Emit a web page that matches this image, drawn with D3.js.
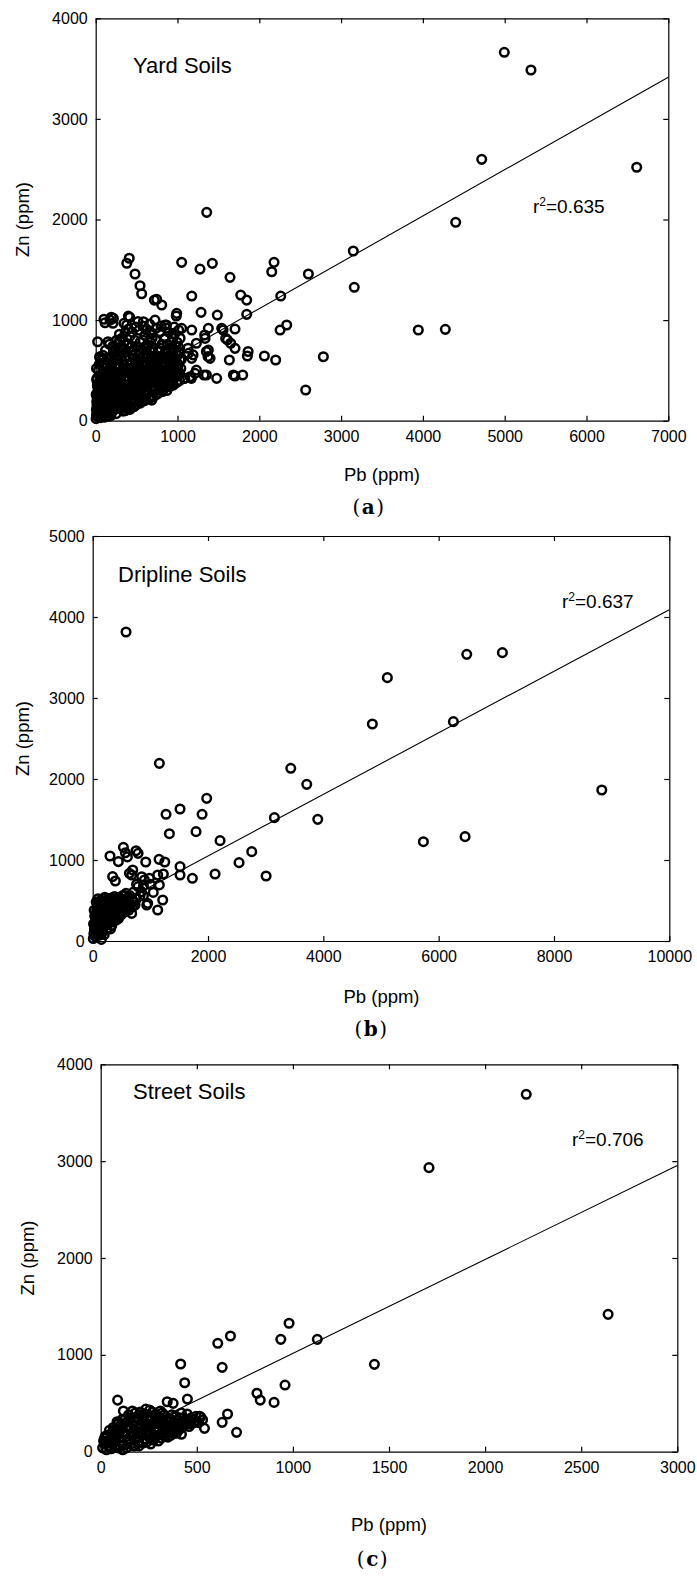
<!DOCTYPE html>
<html>
<head>
<meta charset="utf-8">
<script src="https://d3js.org/d3.v7.min.js"></script>
<style>
  body { margin: 0; background: #fff; }
  svg { display: block; font-family: 'Liberation Sans', Arial, sans-serif; }
  .axis path, .axis line { stroke: #000; stroke-width: 1.2; }
  .axis text { font-size: 16px; fill: #000; font-family: 'Liberation Sans', Arial, sans-serif; }
</style>
</head>
<body>
<script>
// ---- data (Pb ppm, Zn ppm) ----
var panelTitles = ["Yard Soils", "Dripline Soils", "Street Soils"];
var panelTags = ["a", "b", "c"];
var r2Values = ["0.635", "0.637", "0.706"];
var xMax = [7000, 10000, 3000];
var xStep = [1000, 2000, 500];
var yMax = [4000, 5000, 4000];
// regression lines: [intercept, slope]
var fits = [[195, 0.46], [290, 0.38], [45, 0.97]];

var yardPoints = [
  // outliers and sparse points
  [1357,2071],[380,1565],[410,1615],[481,1458],[542,1342],[562,1262],
  [1051,1574],[1275,1507],[1426,1564],[1642,1425],[2152,1481],[2180,1574],[2600,1458],
  [1174,1239],[1773,1249],[1846,1199],[2262,1239],[717,1199],[746,1206],[807,1150],
  [990,1067],[985,1041],[1288,1077],[1487,1050],[1846,1057],[2335,951],[2254,901],
  [2783,636],[2567,305],[2062,643],[2200,603],[1854,643],[1479,421],[1683,454],[1703,444],[1797,454],
  [1703,719],[1634,603],[1589,818],[1703,911],[1540,918],[1377,918],[1337,818],[1377,702],[1398,620],[1324,454],
  [1153,437],[1214,470],[1084,421],[1174,620],[1133,669],[1174,901],[1051,918],
  [1610,803],[1650,770],[1231,770],[1129,720],[1190,654],[1353,688],[1373,638],[1863,688],[1231,503],
  [1353,454],[1170,421],[1088,421],[1557,902],[1332,852],
  [4995,3662],[5321,3486],[4719,2598],[6614,2519],[4401,1972],[3149,1687],[3161,1326],[3944,902],[4274,908],
  [114,974],[175,1000],[216,1017],[24,785],[53,620],[12,404],[399,1040],[583,984],[379,951],[725,1000],[848,951],
  [277,769],[346,785],[236,702],[440,735],[786,885],[950,868],[950,719],[1010,735],[1031,603],[909,470],
  [848,338],[950,354],[705,238],[420,113],[155,46],[685,205],
  [101,1008],[191,1028],[211,968],[415,1028],[345,968],[517,985],[619,902],[680,869],[864,952],
  [48,636],[150,785],[293,802],
  // dense cluster
  [5,20],[10,60],[8,110],[15,150],[20,40],[25,90],[12,190],[30,130],[18,230],[35,210],[40,60],[22,280],
  [45,170],[28,330],[50,250],[38,380],[55,110],[15,420],[42,300],[60,30],[58,360],[48,450],[33,500],
  [52,200],[6,260],[20,350],[10,520],[44,560],
  [65,150],[70,260],[75,80],[80,340],[85,190],[90,420],[95,50],[100,290],[105,140],[110,480],[115,230],
  [120,370],[125,90],[130,530],[135,300],[140,190],[145,440],[70,600],[88,650],[120,700],[98,550],
  [140,610],[78,470],[108,390],[132,120],[62,400],
  [155,230],[160,340],[165,120],[170,460],[175,280],[180,560],[185,180],[190,400],[195,640],[200,90],
  [205,320],[210,500],[215,240],[220,600],[225,150],[230,420],[235,700],[240,290],[245,520],[250,70],
  [255,370],[260,620],[265,200],[270,460],[275,560],[280,310],[285,130],[290,680],[295,410],[168,760],
  [210,740],[255,800],[290,860],[185,50],[230,110],
  [305,250],[310,480],[318,150],[325,590],[330,350],[338,720],[345,200],[350,430],[358,630],[365,100],
  [370,300],[378,520],[385,760],[392,180],[400,400],[408,640],[415,250],[420,840],[428,480],[435,130],
  [440,580],[448,330],[455,700],[462,220],[470,450],[478,800],[485,290],[492,600],[498,160],[320,820],
  [360,880],[400,910],[445,880],[490,930],[335,95],[410,130],[470,140],[380,120],
  [505,380],[512,520],[520,230],[528,660],[535,300],[542,780],[550,430],[558,200],[565,580],[572,350],
  [580,700],[588,260],[595,480],[602,850],[610,210],[618,400],[625,620],[632,300],[640,750],[648,520],
  [655,220],[662,450],[670,880],[678,340],[685,600],[692,250],[698,720],[530,900],[575,940],[620,910],
  [660,960],[690,820],[545,175],[600,200],
  [705,300],[712,480],[720,640],[728,380],[735,800],[742,260],[750,550],[758,420],[765,700],[772,310],
  [780,600],[788,880],[795,360],[802,490],[810,760],[818,290],[825,640],[832,420],[840,540],[848,820],
  [855,330],[862,700],[870,460],[878,600],[885,380],[892,880],[898,520],[740,920],[800,940],[860,920],
  [905,340],[912,640],[920,450],[928,780],[935,380],[942,560],[950,700],[958,420],[965,860],[972,500],
  [980,620],[988,380],[995,780],[1002,450],[1010,560],[1018,680],[1025,400],[1032,820],[1040,520],
  [1048,610],[1015,900],[960,930],
  [30,40],[62,75],[85,110],[110,35],[140,60],[170,150],[200,210],[235,250],[260,170],[290,220],
  [320,280],[350,260],[380,340],[410,300],[440,380],[470,330],[500,420],[530,360],[560,470],[590,400],
  [620,500],[650,440],[680,530],[710,410],[740,470],[770,520],[800,400],[830,460],[860,560],[890,450],
  [920,520],[950,600],[980,450],[1020,480],[150,500],[180,620],[215,680],[250,560],[280,640],[310,700],
  [340,560],[370,680],[400,760],[430,690],[460,620],[490,740],[520,580],[550,680],[580,800],[610,740],
  [640,660],[670,780],[700,680],[730,580],[760,640],[790,720],[820,580],[850,680],[880,760],[910,720],
  [940,820],[975,740],[1000,650],[70,180],[95,360],[125,250],[160,80],[195,300],[225,470],[265,420],
  [300,540],[330,460],[360,360],[395,480],[425,560],[455,500],[485,560],[515,460],[545,520],[575,640],
  [605,560],[635,420],[665,600],
  [120,160],[145,320],[185,260],[205,140],[245,180],[275,350],[300,320],[325,220],[355,140],[385,230],
  [405,520],[445,270],[475,390],[505,260],[525,420],[555,330],[585,540],[615,300],[645,370],[675,460],
  [705,380],[735,520],[765,370],[795,560],[825,350],[855,480],[885,530],[915,390],[945,470],[985,540],
  [1030,460],[60,300],[90,230],[130,420],[165,200],[195,470],[230,330],[270,260],[310,390],[345,500],
  [380,420],[415,360],[450,430],[480,520],[515,330],[560,390],[600,440],[630,560],[670,400],[700,540],
  [720,440],[780,460],[840,620],[900,600],[960,560],[1000,520],[870,300],[760,270],[650,280],[560,250]
];

var driplinePoints = [
  [578,3815],[1156,2193],[1272,1564],[1515,1630],[1977,1761],[1897,1564],[1330,1325],[1792,1350],
  [2209,1239],[1515,918],[1515,815],[1729,774],[2122,827],[2538,967],[2758,1103],[3007,802],
  [3151,1523],[3435,2132],[3712,1934],[3903,1502],
  [4850,2679],[5110,3251],[6487,3539],[7105,3560],[6255,2708],[5735,1226],[6458,1288],[8829,1864],
  [300,1049],[532,1156],[752,1115],[567,1089],[602,1038],[445,980],[787,1082],[920,975],[1151,1008],
  [1250,975],[346,795],[393,741],[636,835],[694,876],[896,753],[983,774],[1127,815],[1225,827],
  [1156,692],[787,671],[845,609],[578,588],[1214,506],[954,465],[1127,383],[694,424],[463,506],[112,485],
  [850,794],[676,815],[937,444],[734,444],[676,341],
  [10,30],[20,90],[30,150],[15,210],[40,60],[50,250],[35,310],[60,120],[70,380],[80,200],[90,280],
  [100,440],[110,70],[120,330],[130,160],[140,500],[150,240],[160,400],[170,110],[180,300],[190,460],
  [200,190],[210,540],[220,350],[230,260],[240,420],[250,150],[260,500],[270,330],[280,220],[290,450],
  [300,380],[310,280],[320,530],[330,190],[340,420],[350,320],[360,480],[370,250],[380,550],[390,380],
  [400,300],[410,460],[420,520],[430,360],[440,420],[450,280],[460,540],[470,380],[480,470],[500,330],
  [520,560],[540,420],[560,500],[580,380],[600,470],[620,540],[640,420],[150,20],[60,480],[25,380],
  [90,520],[200,80],[310,150],
  [45,200],[75,300],[105,230],[135,400],[165,330],[195,390],[225,480],[255,380],[285,520],[315,460],
  [345,500],[375,420],[405,380],[435,500],[465,450],[495,420],[525,480],[555,560],[585,520],[615,480],
  [645,560],[85,100],[115,170],[145,90],[175,220],[205,300],[235,200],[265,260],[295,320],[325,360],
  [355,270],[385,330],[415,260],[445,340],[475,310],[505,400],[535,350],[565,440],[595,410],[625,380],
  [660,450],[700,480],[760,520],[820,560],[700,600],[760,700],[880,680],[1000,700],[1050,600],[880,560],
  [30,100],[55,320],[95,350],[125,270],[155,460],[185,520],[215,420],[245,320],[275,460],[305,510],
  [335,300],[365,380],[395,520],[425,430],[455,380],[485,520],[515,450],[545,390],[575,470],[605,520]
];

var streetPoints = [
  [2214,3690],[1708,2933],[2640,1418],[1424,902],
  [980,1326],[937,1160],[1127,1160],[675,1195],[609,1119],[632,871],[416,906],[437,712],[451,543],
  [346,516],[377,499],[88,533],[118,420],[92,293],[813,603],[830,533],[902,509],[959,688],[660,389],
  [632,303],[707,200],[514,365],[540,241],[445,286],[470,286],
  [10,40],[20,80],[30,20],[40,120],[50,60],[60,150],[15,110],[35,170],[70,90],[80,200],[90,40],
  [100,140],[110,230],[120,70],[130,180],[140,260],[150,110],[160,300],[170,60],[180,220],[190,350],
  [200,150],[210,280],[220,90],[230,390],[240,200],[250,320],[260,130],[270,410],[280,240],[290,350],
  [300,170],[310,290],[320,400],[330,210],[340,330],[350,150],[360,260],[370,380],[380,190],[390,300],
  [400,230],[410,350],[420,180],[45,220],[65,250],[85,310],[105,280],[125,330],[145,380],[165,420],
  [185,140],[205,410],[225,330],[245,260],[265,360],[285,150],[305,360],[325,280],[345,230],[365,170],
  [385,250],[25,160],[55,30],[75,50],[95,190],[115,20],[135,40],[155,80],[175,130],[195,100],[215,200],
  [235,130],[255,180],[275,120],[295,210],[315,140],[335,160],[355,300],[375,280],[395,190],[415,280],
  [235,440],[255,430],[200,380],[180,400],[496,365],[485,300],[460,330],[430,270],
  [20,140],[40,60],[60,200],[80,120],[100,60],[120,200],[140,130],[160,190],[180,60],[200,250],
  [220,300],[240,340],[260,250],[280,310],[300,250],[320,200],[340,280],[360,340],[380,300],[400,330],
  [280,380],[310,420],[150,340],[130,250],[110,330],[90,250],[70,130],[50,110],[240,100],[200,60],
  [260,80],[300,110],[350,200],[410,230],[440,320],[470,350],[500,320],[520,360],[460,260],[420,400],
  [30,100],[55,180],[75,230],[105,100],[130,300],[155,250],[175,350],[195,200],[215,360],[235,290],
  [250,220],[270,180],[290,290],[310,330],[330,380],[350,260],[370,220],[390,360],[410,300],[430,350],
  [450,390],[480,340],[510,300],[530,330]
];

var allPoints = [yardPoints, driplinePoints, streetPoints];

// ---- page layout (pixel boxes of the three panels) ----
var layout = [
  {left: 95.7, top: 18.3, right: 668.3, bottom: 420.7, titleX: 133, titleY: 73, r2X: 533, r2Y: 213,
   yLabX: 29, xLabX: 382, xLabY: 481, tagX: 369, tagY: 514},
  {left: 92.7, top: 536, right: 669.3, bottom: 941, titleX: 118, titleY: 582, r2X: 562, r2Y: 608,
   yLabX: 28.5, xLabX: 381.5, xLabY: 1003, tagX: 371.5, tagY: 1036},
  {left: 100.7, top: 1064.3, right: 677.3, bottom: 1451.7, titleX: 133, titleY: 1099, r2X: 572, r2Y: 1146,
   yLabX: 34, xLabX: 389, xLabY: 1531, tagX: 373, tagY: 1566}
];

var svg = d3.select("body").append("svg")
  .attr("width", 697)
  .attr("height", 1577);

function drawPanel(i) {
  var L = layout[i];
  var x = d3.scaleLinear().domain([0, xMax[i]]).range([L.left, L.right]);
  var y = d3.scaleLinear().domain([0, yMax[i]]).range([L.bottom, L.top]);
  var xt = d3.range(0, xMax[i] + 1, xStep[i]);
  var yt = d3.range(0, yMax[i] + 1, 1000);
  var g = svg.append("g");

  // axes, ticks pointing inward on all four sides
  g.append("g").attr("class", "axis")
    .attr("transform", "translate(0," + L.bottom + ")")
    .call(d3.axisBottom(x).tickValues(xt).tickFormat(d3.format("d"))
      .tickSizeInner(-5).tickSizeOuter(0).tickPadding(10));
  g.append("g").attr("class", "axis")
    .attr("transform", "translate(0," + L.top + ")")
    .call(d3.axisTop(x).tickValues(xt).tickFormat("").tickSizeInner(-5).tickSizeOuter(0));
  g.append("g").attr("class", "axis")
    .attr("transform", "translate(" + L.left + ",0)")
    .call(d3.axisLeft(y).tickValues(yt).tickFormat(d3.format("d"))
      .tickSizeInner(-5).tickSizeOuter(0).tickPadding(8));
  g.append("g").attr("class", "axis")
    .attr("transform", "translate(" + L.right + ",0)")
    .call(d3.axisRight(y).tickValues(yt).tickFormat("").tickSizeInner(-5).tickSizeOuter(0));
  g.selectAll(".axis .domain").attr("fill", "none");

  // regression line
  var f = fits[i];
  g.append("line")
    .attr("x1", x(0)).attr("y1", y(f[0]))
    .attr("x2", x(xMax[i])).attr("y2", y(f[0] + f[1] * xMax[i]))
    .attr("stroke", "#000").attr("stroke-width", 1.1);

  // points
  g.append("g").selectAll("circle")
    .data(allPoints[i])
    .enter().append("circle")
    .attr("cx", function(d) { return x(d[0]); })
    .attr("cy", function(d) { return y(d[1]); })
    .attr("r", 4.3)
    .attr("fill", "none")
    .attr("stroke", "#000")
    .attr("stroke-width", 2.5);

  // panel title
  g.append("text").attr("x", L.titleX).attr("y", L.titleY)
    .style("font-size", "22px").text(panelTitles[i]);

  // r^2 label
  var r2 = g.append("text").attr("x", L.r2X).attr("y", L.r2Y).style("font-size", "19px");
  r2.append("tspan").text("r");
  r2.append("tspan").attr("dy", -7).style("font-size", "12px").text("2");
  r2.append("tspan").attr("dy", 7).text("=" + r2Values[i]);

  // axis titles
  g.append("text").attr("x", L.xLabX).attr("y", L.xLabY)
    .attr("text-anchor", "middle").style("font-size", "18.5px").text("Pb (ppm)");
  g.append("text")
    .attr("transform", "translate(" + L.yLabX + "," + ((L.top + L.bottom) / 2) + ") rotate(-90)")
    .attr("text-anchor", "middle").style("font-size", "18.5px").text("Zn (ppm)");

  // sub-figure tag
  var tag = g.append("text").attr("x", L.tagX).attr("y", L.tagY)
    .attr("text-anchor", "middle")
    .style("font-family", "'DejaVu Serif', 'Liberation Serif', serif")
    .style("font-size", "20px").style("letter-spacing", "1.5px");
  tag.append("tspan").text("(");
  tag.append("tspan").style("font-weight", "bold").text(panelTags[i]);
  tag.append("tspan").text(")");
}

for (var i = 0; i < 3; i++) drawPanel(i);
</script>
</body>
</html>
